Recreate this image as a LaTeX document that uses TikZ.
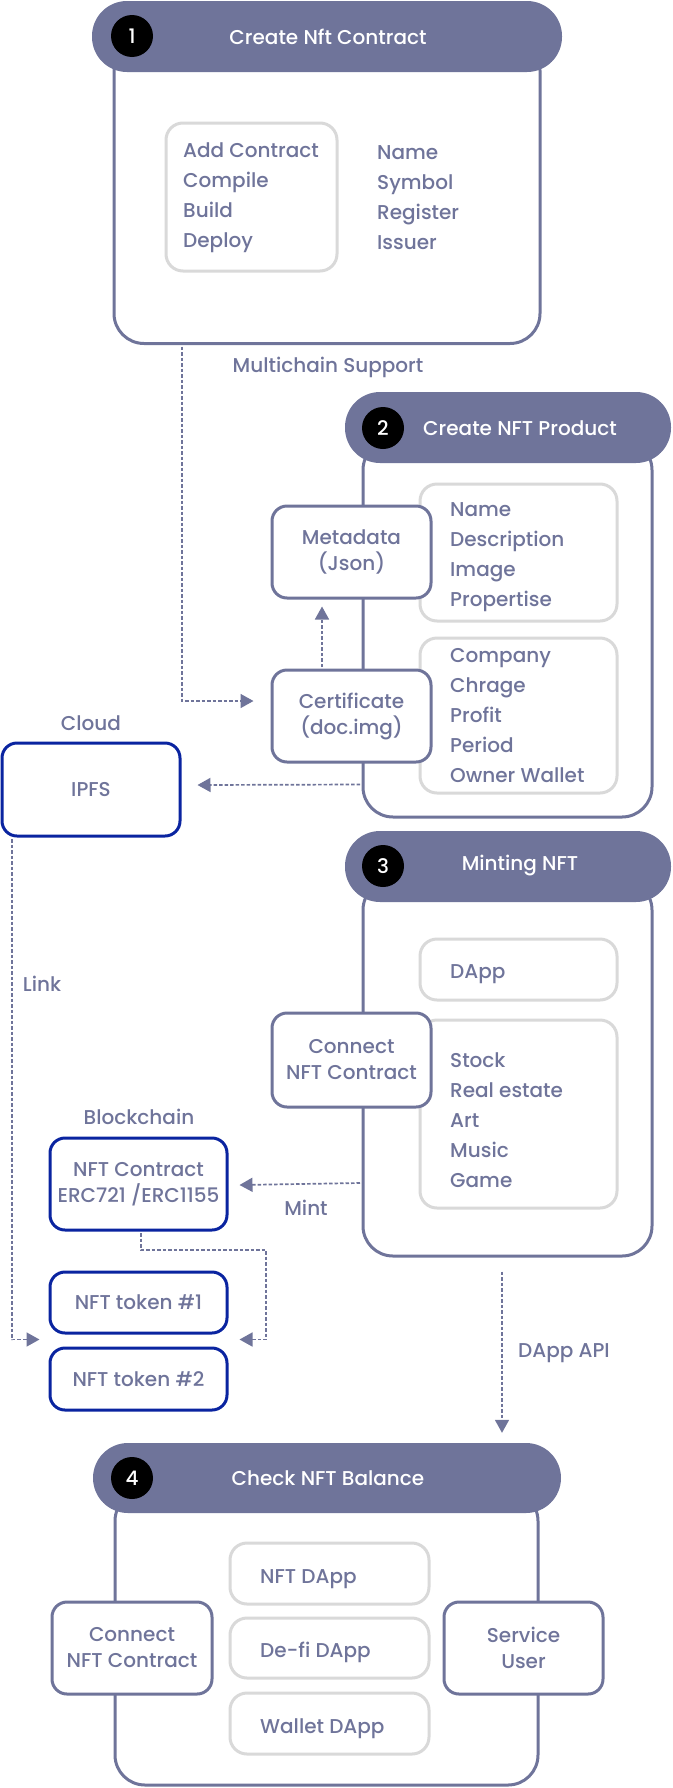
\documentclass[tikz,border=0pt]{standalone}
\usepackage{fontspec}
\setmainfont{Poppins Medium}
\usetikzlibrary{arrows.meta}
\definecolor{slate}{HTML}{6F749A}
\definecolor{navy}{HTML}{0A24A0}
\definecolor{lgray}{HTML}{D9D9D9}
\begin{document}
\begin{tikzpicture}[x=1pt,y=-1pt,
  txt/.style={text=slate,font=\fontsize{20}{26}\selectfont,inner sep=0pt},
  lbl/.style={txt,anchor=base west},
  body/.style={draw=slate,line width=3pt,fill=white,rounded corners=30pt},
  head/.style={fill=slate,rounded corners=35pt,minimum height=71pt},
  num/.style={circle,fill=black,minimum size=42pt,inner sep=0pt,text=white,font=\fontsize{20}{22}\selectfont},
  htitle/.style={text=white,font=\fontsize{20}{22}\selectfont,inner sep=0pt},
  gbox/.style={draw=lgray,line width=3pt,fill=white,rounded corners=17pt},
  sbox/.style={draw=slate,line width=3pt,fill=white,rounded corners=15pt,txt,align=center},
  bbox/.style={draw=navy,line width=3pt,fill=white,rounded corners=15pt,txt,align=center},
  conn/.style={draw=slate,line width=1.7pt,dash pattern=on 3.5pt off 2pt,-{Triangle[length=13pt,width=14pt]}}
]
\useasboundingbox (0,0) rectangle (672,1788);

% ---------- Section 1 ----------
\node[body,minimum width=426,minimum height=303] (body1) at (327,192) {};
\node[head,minimum width=470] (head1) at (327,36.5) {};
\node[num] (n1) at (132,36) {1};
\node[htitle] (t1) at (328,37) {Create Nft Contract};
\node[gbox,minimum width=171,minimum height=148] (g1) at (251.5,197) {};
\foreach \s/\y in {Add Contract/157,Compile/187,Build/217,Deploy/247}
  \node[lbl] at (183,\y) {\s};
\foreach \s/\y in {Name/159,Symbol/189,Register/219,Issuer/249}
  \node[lbl] at (377,\y) {\s};
\node[txt] (ms) at (328,367) {Multichain Support};

% ---------- Section 2 ----------
\node[body,minimum width=289,minimum height=377] (body2) at (507.5,628.5) {};
\node[head,minimum width=326] (head2) at (508,427.5) {};
\node[num] (n2) at (383,428) {2};
\node[htitle] (t2) at (520,428) {Create NFT Product};
\node[gbox,minimum width=197,minimum height=137] (g2a) at (518.5,552.5) {};
\node[gbox,minimum width=197,minimum height=155] (g2b) at (518.5,715.5) {};
\foreach \s/\y in {Name/516,Description/546,Image/576,Propertise/606}
  \node[lbl] at (450,\y) {\s};
\foreach \s/\y in {Company/662,Chrage/692,Profit/722,Period/752,Owner Wallet/782}
  \node[lbl] at (450,\y) {\s};
\node[sbox,minimum width=159,minimum height=92] (meta) at (351.5,552) {Metadata\\(Json)};
\node[sbox,minimum width=159,minimum height=92] (cert) at (351.5,716) {Certificate\\(doc.img)};

\node[txt] (cloud) at (91,723) {Cloud};
\node[bbox,minimum width=178,minimum height=93] (ipfs) at (91,789.5) {IPFS};

% ---------- Section 3 ----------
\node[body,minimum width=289,minimum height=376] (body3) at (507.5,1068) {};
\node[head,minimum width=326] (head3) at (508,866.5) {};
\node[num] (n3) at (383,866) {3};
\node[htitle] (t3) at (520,866) {Minting NFT};
\node[gbox,minimum width=197,minimum height=61] (g3a) at (518.5,969.5) {};
\node[lbl] at (450,978) {DApp};
\node[gbox,minimum width=197,minimum height=188] (g3b) at (518.5,1114) {};
\foreach \s/\y in {Stock/1067,Real estate/1097,Art/1127,Music/1157,Game/1187}
  \node[lbl] at (450,\y) {\s};
\node[sbox,minimum width=159,minimum height=94] (conn3) at (351.5,1060) {Connect\\NFT Contract};

\node[txt] (link) at (42,984) {Link};
\node[txt] (bc) at (139,1117) {Blockchain};
\node[bbox,minimum width=177,minimum height=92] (nftc) at (138.5,1184) {NFT Contract\\ERC721 /ERC1155};
\node[txt] (mint) at (306,1208) {Mint};
\node[bbox,minimum width=177,minimum height=61] (tok1) at (138.5,1302.5) {NFT token \#1};
\node[bbox,minimum width=177,minimum height=62] (tok2) at (138.5,1379) {NFT token \#2};
\node[lbl] (api) at (518,1357) {DApp API};

% ---------- Section 4 ----------
\node[body,minimum width=423,minimum height=294] (body4) at (326.5,1638) {};
\node[head,minimum width=468,minimum height=70] (head4) at (327,1478) {};
\node[num] (n4) at (132,1478) {4};
\node[htitle] (t4) at (328,1478) {Check NFT Balance};
\node[gbox,minimum width=199,minimum height=61] (g4a) at (329.5,1573.5) {};
\node[gbox,minimum width=199,minimum height=60] (g4b) at (329.5,1648) {};
\node[gbox,minimum width=199,minimum height=61] (g4c) at (329.5,1723.5) {};
\node[lbl] at (260,1583) {NFT DApp};
\node[lbl] at (260,1657) {De-fi DApp};
\node[lbl] at (260,1733) {Wallet DApp};
\node[sbox,minimum width=160,minimum height=92] (conn4) at (132,1648) {Connect\\NFT Contract};
\node[sbox,minimum width=159,minimum height=92] (svc) at (523.5,1648) {Service\\User};

% ---------- Connectors ----------
\draw[conn] ([xshift=-145pt,yshift=-1.5pt]body1.south) |- ([xshift=-17pt,yshift=15pt]cert.west);
\draw[conn] ([xshift=-29.5pt,yshift=1.5pt]cert.north) -- ([xshift=-29.5pt,yshift=-7pt]meta.south);
\draw[conn] ([yshift=-156pt,xshift=-1.5pt]body2.west) -- ([xshift=16pt,yshift=4.5pt]ipfs.east);
\draw[conn] ([xshift=-79pt,yshift=-1.5pt]ipfs.south) |- ([xshift=-9pt,yshift=7pt]tok2.north west);
\draw[conn] ([yshift=-115pt,xshift=-1.5pt]body3.west) -- ([xshift=11pt,yshift=-1pt]nftc.east);
\draw[conn] ([xshift=2.5pt,yshift=-1.5pt]nftc.south) -- ++(0,17) -- ++(125,0) |- ([xshift=11pt,yshift=7pt]tok2.north east);
\draw[conn] ([xshift=-5.5pt,yshift=-14pt]body3.south) -- ([xshift=175pt,yshift=10pt]head4.north);
\end{tikzpicture}
\end{document}
